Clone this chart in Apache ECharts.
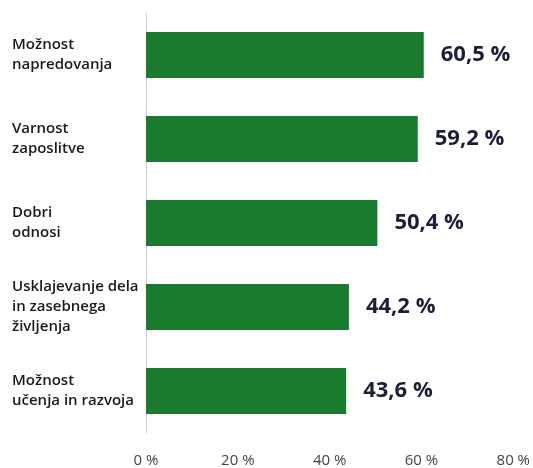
<!DOCTYPE html>
<html>
<head>
<meta charset="utf-8">
<script src="https://cdn.jsdelivr.net/npm/echarts@6/dist/echarts.min.js"></script>
<style>
html,body{margin:0;padding:0;background:#fff;}
#chart{width:533px;height:468px;}
</style>
</head>
<body>
<div id="chart"></div>
<script>
var categories = ["Možnost\nnapredovanja", "Varnost\nzaposlitve", "Dobri\nodnosi", "Usklajevanje dela\nin zasebnega\nživljenja", "Možnost\nučenja in razvoja"];
var values = [60.5, 59.2, 50.4, 44.2, 43.6];
var tickValues = [0, 20, 40, 60, 80];

var chart = echarts.init(document.getElementById('chart'));
chart.setOption({
  animation: false,
  grid: {left: 146, right: 18, top: 13, bottom: 35, containLabel: false},
  xAxis: {
    type: 'value', min: tickValues[0], max: tickValues[tickValues.length - 1], interval: 20,
    axisLine: {show: false}, axisTick: {show: false}, splitLine: {show: false},
    axisLabel: {formatter: '{value} %', color: '#444', fontSize: 15, fontFamily: 'Open Sans', margin: 20}
  },
  yAxis: {
    type: 'category', data: categories, inverse: true,
    axisLine: {show: true, lineStyle: {color: '#d0d0d0', width: 1}},
    axisTick: {show: false},
    axisLabel: {align: 'left', margin: 134, color: '#1a1a1a', fontSize: 15, fontWeight: 600, fontFamily: 'Open Sans', lineHeight: 20}
  },
  series: [{
    type: 'bar', data: values, barWidth: 46,
    itemStyle: {color: '#197b2e'},
    label: {
      show: true, position: 'right', distance: 17,
      formatter: function(p){ return p.value.toFixed(1).replace('.', ',') + ' %'; },
      color: '#1c1f3a', fontSize: 22, fontWeight: 'bold', fontFamily: 'Open Sans'
    }
  }]
});
</script>
</body>
</html>
